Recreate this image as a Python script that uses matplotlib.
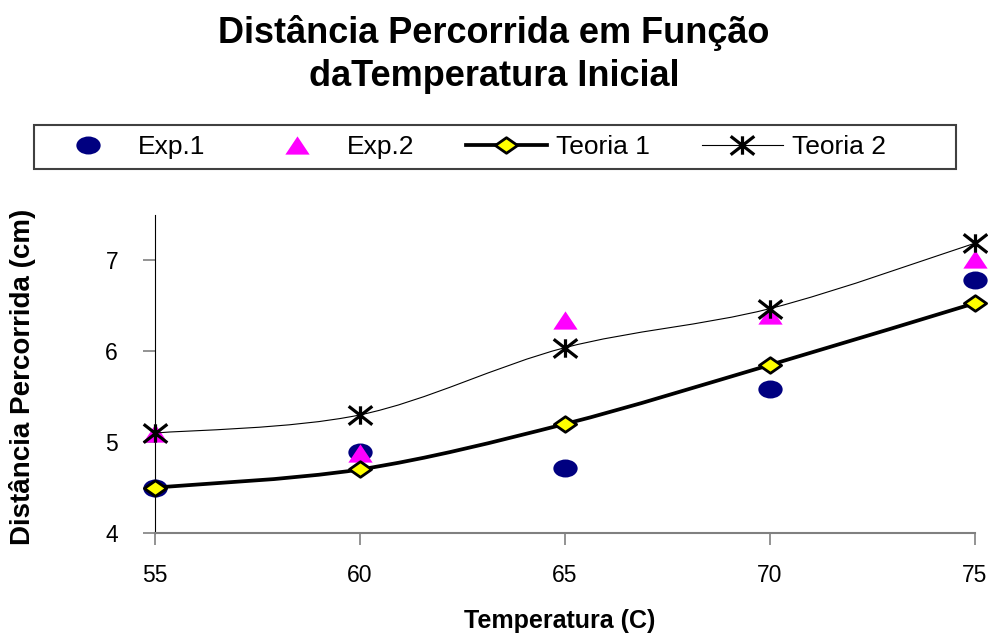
import matplotlib
matplotlib.use('Agg')
import matplotlib.pyplot as plt
from matplotlib.path import Path
from matplotlib.patches import PathPatch, Rectangle

plt.rcParams['font.family'] = ['Liberation Sans', 'DejaVu Sans']

# data
temperatura = [55, 60, 65, 70, 75]
exp1 = [4.49, 4.89, 4.71, 5.59, 6.79]
exp2 = [5.10, 4.88, 6.34, 6.40, 7.02]
teoria1 = [4.50, 4.70, 5.20, 5.85, 6.53]
teoria2 = [5.10, 5.30, 6.04, 6.47, 7.19]


def smooth_path(xs, ys):
    # Excel-like smoothed line: cubic bezier through the points
    pts = list(zip(xs, ys))
    verts = [pts[0]]
    codes = [Path.MOVETO]
    n = len(pts)
    for i in range(n - 1):
        p0 = pts[i - 1] if i > 0 else pts[i]
        p1 = pts[i]
        p2 = pts[i + 1]
        p3 = pts[i + 2] if i + 2 < n else pts[i + 1]
        c1 = (p1[0] + (p2[0] - p0[0]) / 6.0, p1[1] + (p2[1] - p0[1]) / 6.0)
        c2 = (p2[0] - (p3[0] - p1[0]) / 6.0, p2[1] - (p3[1] - p1[1]) / 6.0)
        verts += [c1, c2, p2]
        codes += [Path.CURVE4] * 3
    return Path(verts, codes)


# marker shapes (wider than tall, like the original)
ellipse = Path(Path.unit_circle().vertices * [1.0, 0.74], Path.unit_circle().codes)
triangle = Path([(0, 0.75), (-1, -0.75), (1, -0.75), (0, 0.75)],
                [Path.MOVETO, Path.LINETO, Path.LINETO, Path.CLOSEPOLY])
diamond = Path([(0, 0.7), (1, 0), (0, -0.7), (-1, 0), (0, 0.7)],
               [Path.MOVETO, Path.LINETO, Path.LINETO, Path.LINETO, Path.CLOSEPOLY])
asterisk = Path([(0, -0.78), (0, 0.78), (-1, -0.78), (1, 0.78), (-1, 0.78), (1, -0.78)],
                [Path.MOVETO, Path.LINETO] * 3)

st_exp1 = dict(linestyle='none', marker=ellipse, markersize=17.5,
               color='#000080', markeredgewidth=0)
st_exp2 = dict(linestyle='none', marker=triangle, markersize=17.5,
               color='#ff00ff', markeredgewidth=0)
st_t1 = dict(color='black', linewidth=2.7, marker=diamond, markersize=16,
             markerfacecolor='#ffff00', markeredgecolor='black', markeredgewidth=2.0)
st_t2 = dict(color='black', linewidth=0.8, marker=asterisk, markersize=17,
             markeredgecolor='black', markeredgewidth=2.3)

fig = plt.figure(figsize=(9.88, 6.36), dpi=100)
ax = fig.add_axes([155 / 988, 1 - 533 / 636, 820 / 988, 318 / 636])

ax.plot(temperatura, exp1, label='Exp.1', zorder=3, clip_on=False, **st_exp1)
ax.plot(temperatura, exp2, label='Exp.2', zorder=4, clip_on=False, **st_exp2)

ax.add_patch(PathPatch(smooth_path(temperatura, teoria1), facecolor='none',
                       edgecolor='black', linewidth=2.7, zorder=5))
ax.plot(temperatura, teoria1, zorder=6, clip_on=False,
        **dict(st_t1, linestyle='none'))

ax.add_patch(PathPatch(smooth_path(temperatura, teoria2), facecolor='none',
                       edgecolor='black', linewidth=0.8, zorder=7))
ax.plot(temperatura, teoria2, zorder=8, clip_on=False,
        **dict(st_t2, linestyle='none'))

# legend proxies
h1, = ax.plot([], [], **st_exp1)
h2, = ax.plot([], [], **st_exp2)
h3, = ax.plot([], [], **st_t1)
h4, = ax.plot([], [], **st_t2)

fig.patches.append(Rectangle((34 / 988, 1 - 169 / 636), 922 / 988, 44 / 636,
                             transform=fig.transFigure, facecolor='white',
                             edgecolor='#404040', linewidth=1.5, zorder=0))
leg = fig.legend([h1, h2, h3, h4], ['Exp.1', 'Exp.2', 'Teoria 1', 'Teoria 2'],
                 loc='center left', bbox_to_anchor=(47 / 988, 1 - 147 / 636),
                 ncol=4, numpoints=1, handlelength=3.07, fontsize=19,
                 frameon=False, borderaxespad=0, borderpad=0,
                 handletextpad=0.36, columnspacing=1.95)

ax.set_xlim(55, 75)
ax.set_ylim(4, 7.5)
ax.set_xticks(temperatura)
ax.set_yticks([4, 5, 6, 7])

for s in ['top', 'right']:
    ax.spines[s].set_visible(False)
ax.spines['left'].set_color('black')
ax.spines['bottom'].set_color('#808080')
ax.spines['bottom'].set_linewidth(1.5)
ax.tick_params(axis='both', direction='out', length=8.6, width=1.2, color='#808080',
               labelsize=16.5)
ax.tick_params(axis='y', pad=18)
ax.tick_params(axis='x', pad=14)

ax.set_xlabel('Temperatura (C)', fontsize=18, fontweight='bold')
ax.xaxis.set_label_coords(405 / 820, -76 / 318)
ax.set_ylabel('Distância Percorrida (cm)', fontsize=20, fontweight='bold')
ax.yaxis.set_label_coords(-119 / 820, 0.49)

fig.text(0.5, 0.977, 'Distância Percorrida em Função\ndaTemperatura Inicial',
         ha='center', va='top', fontsize=26, fontweight='bold', linespacing=1.3)

fig.savefig('out.png', dpi=100)
